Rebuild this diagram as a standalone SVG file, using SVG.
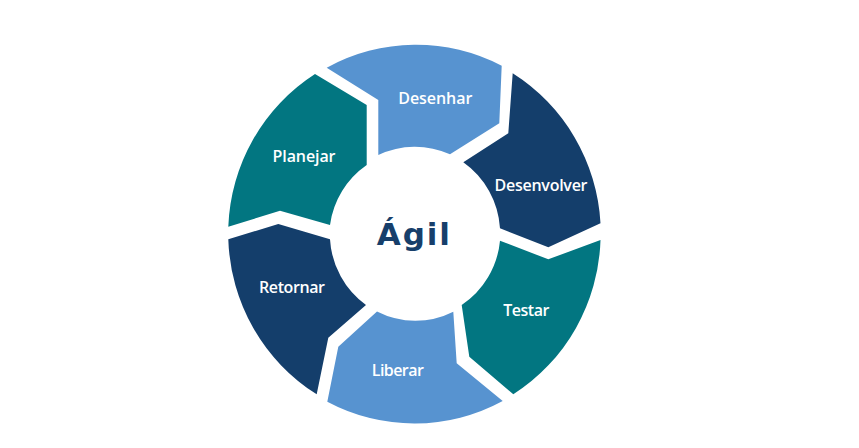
<svg xmlns="http://www.w3.org/2000/svg" width="859" height="448" viewBox="0 0 859 448">
<style>
.navy{fill:#143e6b}
.teal{fill:#027681}
.blue{fill:#5793d0}
.lbl{font-family:"Open Sans","Liberation Sans",sans-serif;font-weight:600;font-size:16px;fill:#ffffff;text-anchor:middle}
.ttl{font-family:"DejaVu Sans","Open Sans",sans-serif;font-weight:700;font-size:31px;fill:#173f6b;text-anchor:middle}
</style>
<rect width="859" height="448" fill="#ffffff"/>
<g id="planejar">
<path class="teal" d="M228.3,226.7 A187,189.5 0 0 1 315,74 L366.7,105 L366.7,165 A85.5,87 0 0 0 330,225 L280,210.7 Z"/>
<text class="lbl" x="304" y="162" textLength="63" lengthAdjust="spacing">Planejar</text>
</g>
<g id="desenhar">
<path class="blue" d="M326.7,67.7 A187,189.5 0 0 1 501.7,65.7 L499.3,123.3 L450,154.3 A85.5,87 0 0 0 378.3,155 L378.3,100 Z"/>
<text class="lbl" x="435.3" y="104" textLength="74" lengthAdjust="spacing">Desenhar</text>
</g>
<g id="desenvolver">
<path class="navy" d="M512.7,73.3 A187,189.5 0 0 1 600.5,223.3 L548.3,247.3 L500,228.3 A85.5,87 0 0 0 463.3,162.3 L508.3,133.3 Z"/>
<text class="lbl" x="541" y="191" textLength="93" lengthAdjust="spacing">Desenvolver</text>
</g>
<g id="testar">
<path class="teal" d="M600.5,240 A187,189.5 0 0 1 513.3,394.3 L469.3,356.7 L461.7,305 A85.5,87 0 0 0 500,240.7 L548.3,259.3 Z"/>
<text class="lbl" x="526.3" y="315.7" textLength="46" lengthAdjust="spacing">Testar</text>
</g>
<g id="liberar">
<path class="blue" d="M502.7,401 A187,189.5 0 0 1 327.3,401.7 L338.3,346.7 L377,311.5 A85.5,87 0 0 0 453.3,311.7 L456.7,363.3 Z"/>
<text class="lbl" x="397.8" y="376" textLength="52" lengthAdjust="spacing">Liberar</text>
</g>
<g id="retornar">
<path class="navy" d="M316.7,394.3 A187,189.5 0 0 1 228.3,239.3 L278.3,224 L330,239.3 A85.5,87 0 0 0 366,305 L328.3,337.7 Z"/>
<text class="lbl" x="292" y="292.7" textLength="66" lengthAdjust="spacing">Retornar</text>
</g>
<g id="agil">
<text class="ttl" x="413.3" y="245" textLength="73" lengthAdjust="spacing">Ágil</text>
</g>
<g id="connectors"></g>
</svg>
